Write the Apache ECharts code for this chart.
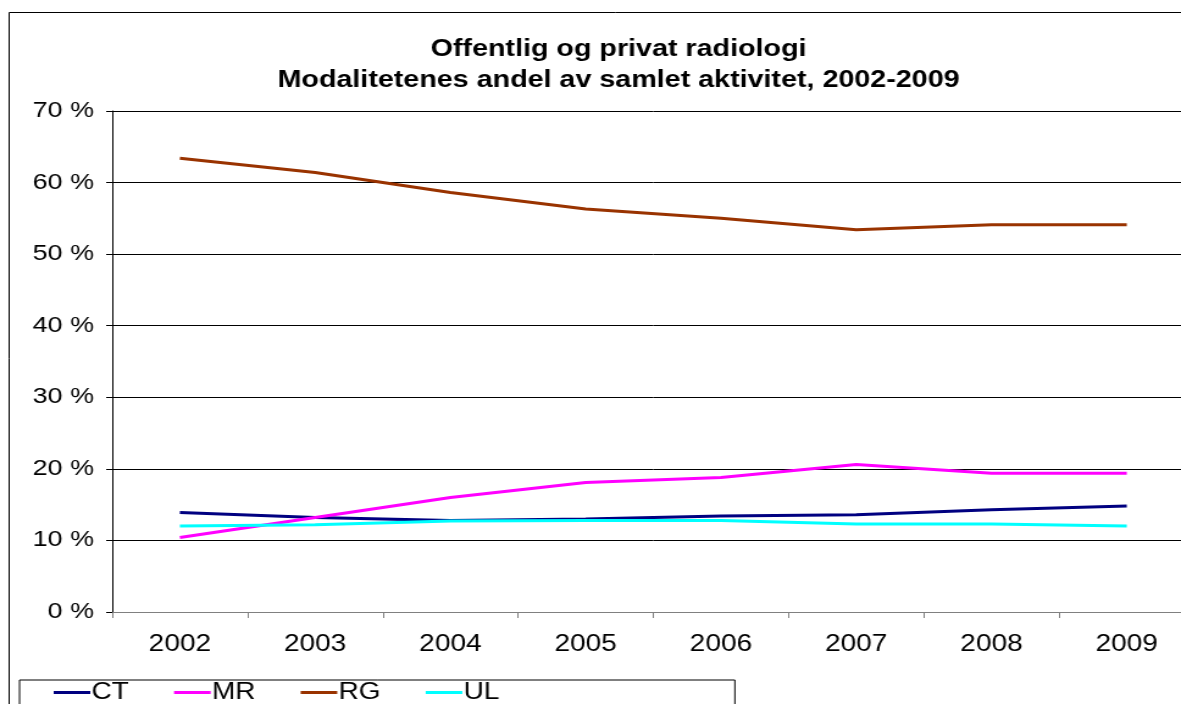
<!DOCTYPE html>
<html>
<head>
<meta charset="utf-8">
<script src="https://cdn.jsdelivr.net/npm/echarts@6/dist/echarts.min.js"></script>
<style>
html,body{margin:0;padding:0;background:#fff;overflow:hidden;width:1181px;height:704px;}
#wrap{width:1181px;height:704px;overflow:hidden;position:absolute;left:0;top:0;}
#chart{width:1000px;height:704px;transform:scaleX(1.22);transform-origin:0 0;}
</style>
</head>
<body>
<div id="wrap"><div id="chart"></div></div>
<script>
const years = ['2002','2003','2004','2005','2006','2007','2008','2009'];
const ctValues = [13.9, 13.2, 12.8, 13.0, 13.4, 13.6, 14.3, 14.8];
const mrValues = [10.4, 13.2, 16.0, 18.1, 18.8, 20.6, 19.4, 19.4];
const rgValues = [63.4, 61.4, 58.6, 56.3, 55.0, 53.4, 54.1, 54.1];
const ulValues = [12.0, 12.2, 12.7, 12.8, 12.8, 12.3, 12.3, 12.0];
const titleText = 'Offentlig og privat radiologi\nModalitetenes andel av samlet aktivitet, 2002-2009';

const chart = echarts.init(document.getElementById('chart'), null, {renderer: 'canvas'});
const font = 'Liberation Sans, Arial, Helvetica, sans-serif';
const mk = (name, data, color) => ({
  name, type: 'line', data, symbol: 'none', smooth: false,
  lineStyle: {color, width: 3}, itemStyle: {color}
});
chart.setOption({
  animation: false,
  backgroundColor: '#fff',
  textStyle: {fontFamily: font},
  title: {
    text: titleText,
    left: 502, top: 29, textAlign: 'center',
    textStyle: {fontFamily: font, fontSize: 23.5, fontWeight: 'bold', color: '#000', lineHeight: 31, align: 'center'}
  },
  graphic: [
    {type: 'line', silent: true, shape: {x1: 7.5, y1: 12.5, x2: 1200, y2: 12.5}, style: {stroke: '#000', lineWidth: 1}},
    {type: 'line', silent: true, shape: {x1: 7.5, y1: 12.5, x2: 7.5, y2: 800}, style: {stroke: '#000', lineWidth: 1}}
  ],
  legend: {
    left: 16, top: 680,
    padding: [1, 193, 20, 28],
    itemGap: 37, itemWidth: 30, itemHeight: 3,
    borderColor: '#000', borderWidth: 1,
    icon: 'rect',
    textStyle: {fontFamily: font, fontSize: 23, color: '#000', padding: [0,0,0,-4]},
    data: ['CT','MR','RG','UL']
  },
  grid: {left: 92, top: 111, width: 887, height: 501, containLabel: false, outerBoundsMode: 'none'},
  xAxis: {
    type: 'category', data: years, boundaryGap: true,
    axisLine: {lineStyle: {color: '#808080', width: 1}},
    axisTick: {show: true, alignWithLabel: false, length: 6, lineStyle: {color: '#808080'}},
    axisLabel: {fontFamily: font, fontSize: 23, color: '#000', margin: 21},
    splitLine: {show: false}
  },
  yAxis: {
    type: 'value', min: 0, max: 70, interval: 10,
    axisLine: {show: true, lineStyle: {color: '#000', width: 1}},
    axisTick: {show: true, length: 5, lineStyle: {color: '#000'}},
    axisLabel: {fontFamily: font, fontSize: 22, color: '#000', margin: 15, formatter: '{value} %'},
    splitLine: {show: true, lineStyle: {color: '#000', width: 1}}
  },
  series: [
    mk('CT', ctValues, '#000080'),
    mk('MR', mrValues, '#FF00FF'),
    mk('RG', rgValues, '#993300'),
    mk('UL', ulValues, '#00FFFF')
  ]
});
</script>
</body>
</html>
